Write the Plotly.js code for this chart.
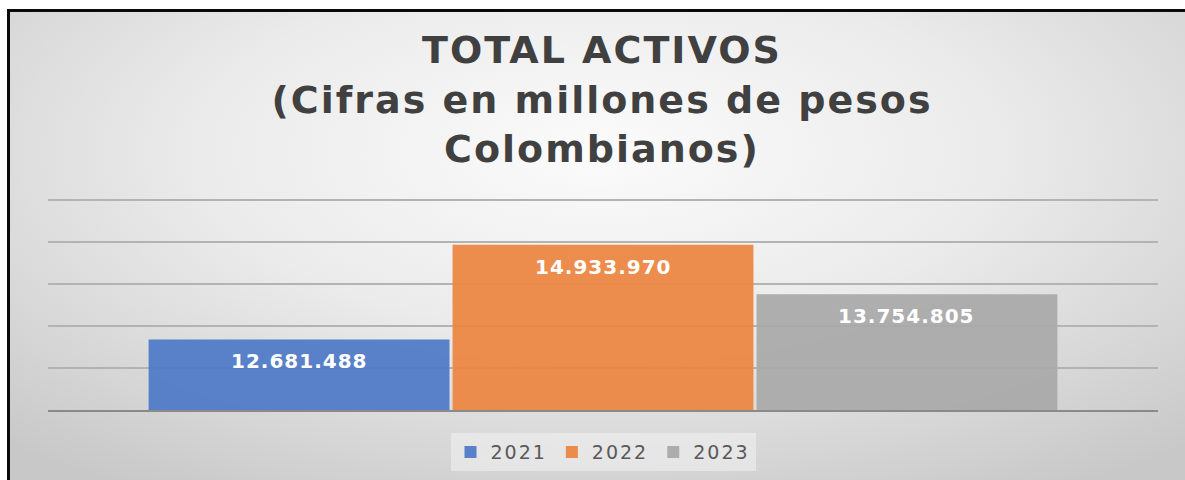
<!DOCTYPE html>
<html>
<head>
<meta charset="utf-8">
<script src="https://cdn.plot.ly/plotly-3.0.1.min.js"></script>
<style>
  html, body { margin: 0; padding: 0; background: #ffffff; width: 1185px; height: 480px; overflow: hidden; }
  #bg {
    position: absolute; left: 7px; top: 9px; right: 0; bottom: 0;
    border-top: 3px solid #0a0a0a; border-left: 3px solid #0a0a0a;
    background: radial-gradient(ellipse 75% 85% at 50% 30%, #fbfbfb 0%, #ebebeb 45%, #c8c8c8 100%);
  }
  #chart { position: absolute; left: 0; top: 0; width: 1185px; height: 480px; }
  .gtitle { letter-spacing: 2px; }
  .legendtext { letter-spacing: 2px; }
  .annotation-text { letter-spacing: 1px; }
</style>
</head>
<body>
<div id="bg"></div>
<div id="chart"></div>
<script>
const years = ['2021', '2022', '2023'];
const values = [12681488, 14933970, 13754805];
const colors = ['#4f7ac7', '#ec8541', '#a9a9a9'];
const yTicks = [12000000, 13000000, 14000000, 15000000, 16000000];

function fmt(v) {
  return String(v).replace(/\B(?=(\d{3})+(?!\d))/g, '.');
}

const traces = years.map((yr, i) => ({
  type: 'bar',
  name: yr,
  x: [yr],
  y: [values[i]],
  marker: { color: colors[i], line: { width: 0 } },
  opacity: 0.93,
  hoverinfo: 'skip'
}));

const annotations = years.map((yr, i) => ({
  x: i, y: values[i], xref: 'x', yref: 'y',
  text: '<b>' + fmt(values[i]) + '</b>',
  showarrow: false, yanchor: 'middle', yshift: -22,
  font: { family: 'DejaVu Sans', size: 20, color: '#ffffff' }
}));

const layout = {
  width: 1185, height: 480,
  margin: { l: 48, r: 27, t: 198, b: 70 },
  paper_bgcolor: 'rgba(0,0,0,0)',
  plot_bgcolor: 'rgba(0,0,0,0)',
  barmode: 'overlay',
  bargap: 0.01,
  title: {
    text: '<b>TOTAL ACTIVOS<br>(Cifras en millones de pesos<br>Colombianos)</b>',
    font: { family: 'DejaVu Sans', size: 38, color: '#404040' },
    x: 0.508, xanchor: 'center',
    yref: 'container', y: 0.868, yanchor: 'top'
  },
  xaxis: {
    type: 'category',
    range: [-0.826, 2.826],
    showticklabels: false, ticks: '',
    showgrid: false, zeroline: false,
    showline: true, linecolor: '#8a8a8a', linewidth: 2
  },
  yaxis: {
    range: [11000000, 16050000],
    tickvals: yTicks,
    showticklabels: false, ticks: '',
    showgrid: true, gridcolor: '#b3b3b3', gridwidth: 1.5,
    zeroline: false, showline: false
  },
  showlegend: true,
  legend: {
    orientation: 'h', x: 0.5, xanchor: 'center',
    yref: 'container', y: 0.058, yanchor: 'middle',
    bgcolor: 'rgba(240,240,240,0.6)',
    font: { family: 'DejaVu Sans', size: 19, color: '#595959' },
    itemclick: false, itemdoubleclick: false
  },
  annotations: annotations
};

Plotly.newPlot('chart', traces, layout, { displayModeBar: false, staticPlot: true });
</script>
</body>
</html>
